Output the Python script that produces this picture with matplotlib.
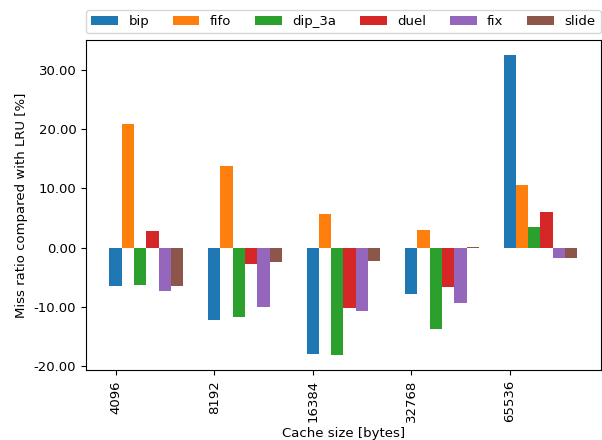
import matplotlib
matplotlib.use("Agg")
import matplotlib.pyplot as plt
import matplotlib.ticker as mticker
import numpy as np

sizes = ["4096", "8192", "16384", "32768", "65536"]
policies = ["bip", "fifo", "dip_3a", "duel", "fix", "slide"]

bip = [-6.5, -12.2, -17.95, -7.8, 32.55]
fifo = [20.9, 13.8, 5.7, 3.0, 10.6]
dip_3a = [-6.3, -11.8, -18.25, -13.85, 3.5]
duel = [2.8, -2.75, -10.3, -6.75, 6.05]
fix = [-7.3, -10.1, -10.8, -9.45, -1.85]
slide = [-6.45, -2.4, -2.2, 0.15, -1.7]

series = [bip, fifo, dip_3a, duel, fix, slide]

plt.rcParams["font.size"] = 9.5

fig, ax = plt.subplots(figsize=(6.02, 4.4), dpi=100)
fig.subplots_adjust(left=0.143, right=0.998, top=0.909, bottom=0.158)

x = np.arange(len(sizes))
width = 0.125
for i, (name, vals) in enumerate(zip(policies, series)):
    ax.bar(x + i * width, vals, width, label=name)

ax.set_xticks(x)
ax.set_xticklabels(sizes, rotation=90)
ax.yaxis.set_major_formatter(mticker.FormatStrFormatter("%.2f"))
ax.set_xlabel("Cache size [bytes]", labelpad=3)
ax.set_ylabel("Miss ratio compared with LRU [%]")
ax.legend(bbox_to_anchor=(0, 1.02, 1, 0.102), loc="lower left",
          mode="expand", ncol=6, borderaxespad=0)

fig.savefig("out.png")
